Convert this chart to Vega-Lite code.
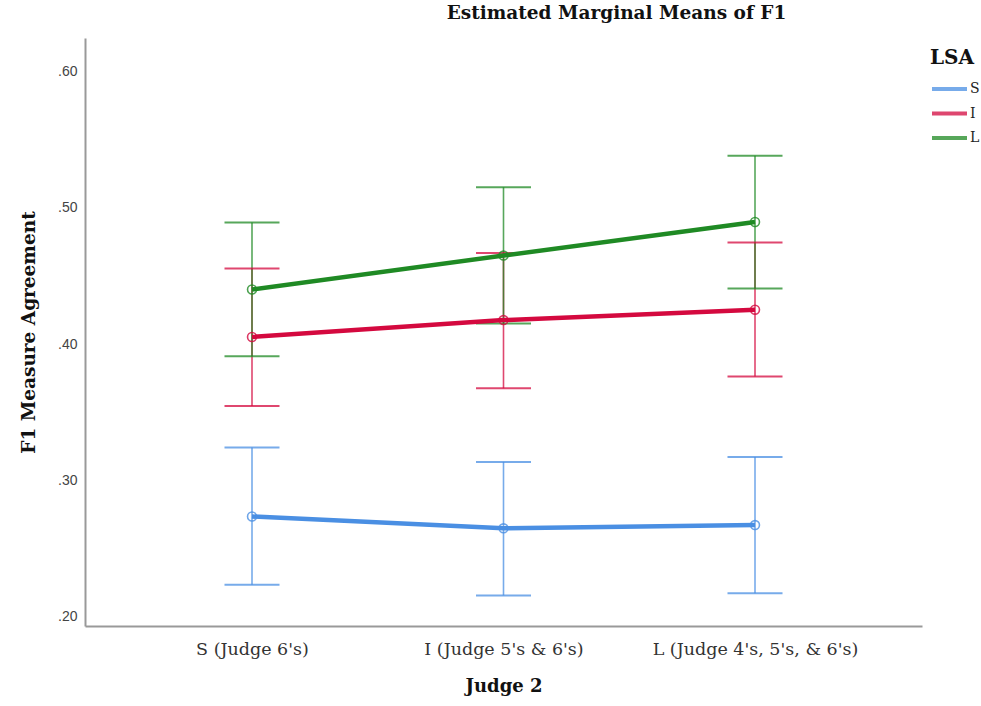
{
  "$schema": "https://vega.github.io/schema/vega-lite/v6.json",
  "width": 837,
  "height": 588,
  "autosize": {"type": "none"},
  "padding": {"left": 85, "top": 38, "right": 59, "bottom": 80},
  "background": "white",
  "title": {
    "text": "Estimated Marginal Means of F1",
    "font": "DejaVu Serif",
    "fontSize": 18.5,
    "fontWeight": "bold",
    "color": "#111",
    "anchor": "middle",
    "dx": 113,
    "offset": 16
  },
  "config": {
    "view": {"stroke": null},
    "axis": {"grid": false, "ticks": false, "domainColor": "#999", "domainWidth": 2}
  },
  "data": {
    "values": [
      {"judge2": "S (Judge 6's)", "lsa": "S", "mean": 0.2737, "lo": 0.2236, "hi": 0.3243},
      {"judge2": "I (Judge 5's & 6's)", "lsa": "S", "mean": 0.2650, "lo": 0.2158, "hi": 0.3137},
      {"judge2": "L (Judge 4's, 5's, & 6's)", "lsa": "S", "mean": 0.2674, "lo": 0.2175, "hi": 0.3173},
      {"judge2": "S (Judge 6's)", "lsa": "I", "mean": 0.4053, "lo": 0.3547, "hi": 0.4555},
      {"judge2": "I (Judge 5's & 6's)", "lsa": "I", "mean": 0.4177, "lo": 0.3677, "hi": 0.4669},
      {"judge2": "L (Judge 4's, 5's, & 6's)", "lsa": "I", "mean": 0.4253, "lo": 0.3764, "hi": 0.4745},
      {"judge2": "S (Judge 6's)", "lsa": "L", "mean": 0.4401, "lo": 0.3912, "hi": 0.4893},
      {"judge2": "I (Judge 5's & 6's)", "lsa": "L", "mean": 0.4650, "lo": 0.4151, "hi": 0.5151},
      {"judge2": "L (Judge 4's, 5's, & 6's)", "lsa": "L", "mean": 0.4896, "lo": 0.4409, "hi": 0.5382}
    ]
  },
  "encoding": {
    "x": {
      "field": "judge2",
      "type": "ordinal",
      "sort": ["S (Judge 6's)", "I (Judge 5's & 6's)", "L (Judge 4's, 5's, & 6's)"],
      "scale": {"type": "point", "padding": 0.664},
      "axis": {
        "title": "Judge 2",
        "titleFont": "DejaVu Serif",
        "titleFontSize": 18,
        "titleFontWeight": "bold",
        "titleColor": "#111",
        "titlePadding": 20,
        "labelAngle": 0,
        "labelLimit": 0,
        "labelFont": "DejaVu Serif",
        "labelFontSize": 17.5,
        "labelColor": "#333",
        "labelPadding": 14
      }
    },
    "color": {
      "field": "lsa",
      "type": "nominal",
      "scale": {"domain": ["S", "I", "L"], "range": ["#4a8fe3", "#d4093f", "#1f8a24"]},
      "legend": {
        "title": "LSA",
        "orient": "none",
        "legendX": 845,
        "legendY": 10,
        "titleFont": "DejaVu Serif",
        "titleFontSize": 20,
        "titleFontWeight": "bold",
        "titleColor": "#111",
        "titlePadding": 9,
        "labelFont": "DejaVu Serif",
        "labelFontSize": 14,
        "labelColor": "#222",
        "labelOffset": 16,
        "symbolType": "M-1,0H2.5",
        "symbolSize": 400,
        "symbolStrokeWidth": 4,
        "rowPadding": 4.5
      }
    }
  },
  "layer": [
    {
      "mark": {"type": "rule", "strokeWidth": 1.6, "opacity": 0.75},
      "encoding": {
        "y": {"field": "lo", "type": "quantitative"},
        "y2": {"field": "hi"}
      }
    },
    {
      "mark": {"type": "tick", "size": 55, "thickness": 2, "opacity": 0.75, "orient": "horizontal"},
      "encoding": {"y": {"field": "lo", "type": "quantitative"}}
    },
    {
      "mark": {"type": "tick", "size": 55, "thickness": 2, "opacity": 0.75, "orient": "horizontal"},
      "encoding": {"y": {"field": "hi", "type": "quantitative"}}
    },
    {
      "mark": {"type": "line", "strokeWidth": 4.5},
      "encoding": {
        "y": {
          "field": "mean",
          "type": "quantitative",
          "scale": {"domain": [0.1934, 0.6245], "nice": false, "zero": false},
          "axis": {
            "title": "F1 Measure Agreement",
            "titleFont": "DejaVu Serif",
            "titleFontSize": 18.5,
            "titleFontWeight": "bold",
            "titleColor": "#111",
            "titlePadding": 19,
            "values": [0.2, 0.3, 0.4, 0.5, 0.6],
            "format": ".2f",
            "labelExpr": "replace(datum.label, '0.', '.')",
            "labelFont": "Liberation Sans",
            "labelFontSize": 14,
            "labelColor": "#444",
            "labelPadding": 8
          }
        }
      }
    },
    {
      "mark": {"type": "point", "filled": false, "size": 80, "strokeWidth": 1.6, "opacity": 0.8},
      "encoding": {"y": {"field": "mean", "type": "quantitative"}}
    }
  ]
}
